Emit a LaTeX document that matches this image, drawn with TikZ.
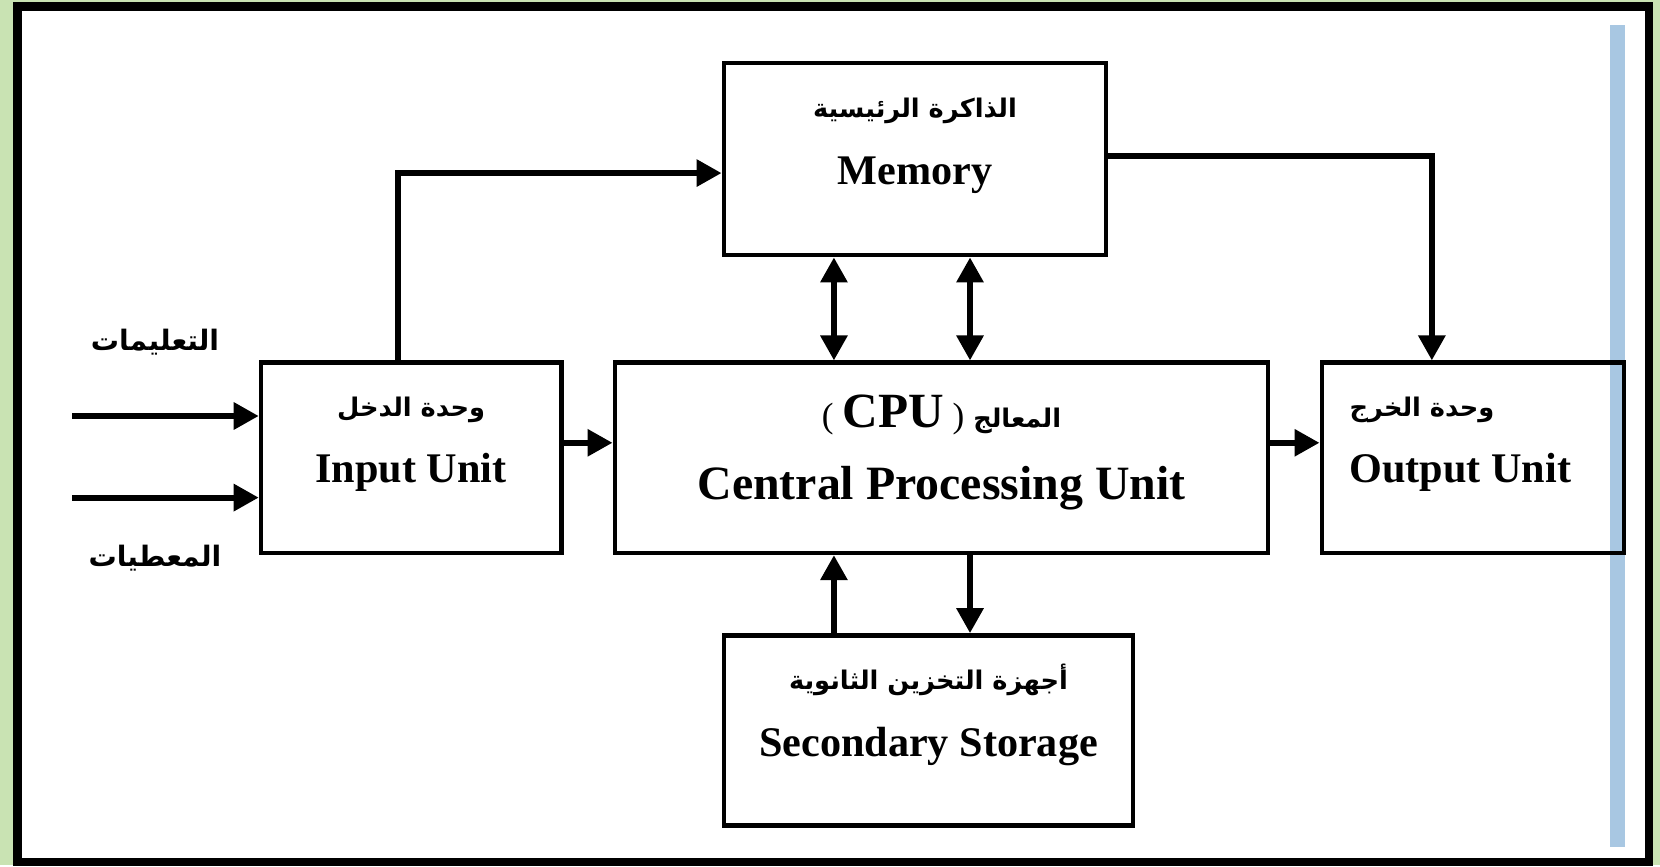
\documentclass[tikz,border=0pt]{standalone}
\usepackage{fontspec}
\setmainfont{Liberation Serif}
\newfontfamily\arabicfont[Script=Arabic]{DejaVu Sans}
\TeXXeTstate=1
\usetikzlibrary{arrows.meta,positioning}
\definecolor{leafgreen}{HTML}{C9E3B3}
\definecolor{barblue}{HTML}{A8C7E2}
\newcommand{\artxt}[1]{{\arabicfont\bfseries\fontsize{7.3}{9}\selectfont\beginR #1\endR}}

\begin{document}
\begin{tikzpicture}[
    x=0.01cm, y=-0.01cm,
    box/.style={draw, line width=1.3pt, minimum height=1.9cm, align=center,
                font=\bfseries\fontsize{12}{16}\selectfont, text depth=0.36cm},
    arr/.style={-{Triangle[length=2.5mm, width=2.6mm]}, line width=1.7pt},
    dbl/.style={{Triangle[length=2.5mm, width=2.6mm]}-{Triangle[length=2.5mm, width=2.6mm]}, line width=1.7pt},
    lbl/.style={font=\arabicfont\bfseries\fontsize{8}{10}\selectfont}
]

% background and frame
\fill[leafgreen] (0,0) rectangle (1660,865);
\draw[line width=2.3pt, fill=white] (17.5,6.5) rectangle (1649,862);
\fill[barblue] (1610,25) rectangle (1625,847);

% --- units ---
\node[box, minimum width=6.53cm, font=\bfseries\fontsize{13.6}{18}\selectfont, text depth=0.22cm] (cpu) at (941.5,457.8)
    {\artxt{المعالج \beginL{\rmfamily\mdseries\fontsize{10}{12}\selectfont(} {\rmfamily\bfseries\fontsize{14}{16}\selectfont CPU} {\rmfamily\mdseries\fontsize{10}{12}\selectfont)}\endL}\\[2.5pt] Central Processing Unit};
\node[box, minimum width=3.0cm, left=0.49cm of cpu] (input) {\artxt{وحدة الدخل}\\[3pt] Input Unit};
\node[box, minimum width=3.02cm, right=0.49cm of cpu, align=left] (output) {\artxt{وحدة الخرج}\\[3pt] Output Unit\rule{0.25cm}{0pt}};
\node[box, minimum width=3.82cm, minimum height=1.92cm, above right=1.03cm and 1.09cm of cpu.north west] (memory)
    {\artxt{الذاكرة الرئيسية}\\[3pt] Memory};
\node[box, minimum width=4.09cm, below right=0.78cm and 1.09cm of cpu.south west, text depth=0.4cm] (storage)
    {\artxt{أجهزة التخزين الثانوية}\\[3pt] Secondary Storage};

% --- inputs from outside ---
\coordinate (instr) at (72,416);
\coordinate (data) at (72,497.6);
\node[lbl] (instrlbl) at (155,342) {\beginR التعليمات\endR};
\node[lbl] (datalbl) at (155,558) {\beginR المعطيات\endR};
\draw[arr] (instr) -- (instr -| input.west);
\draw[arr] (data) -- (data -| input.west);

% --- data paths ---
\draw[arr] ([xshift=-0.13cm]input.north) |- ([yshift=-0.14cm]memory.west);
\draw[arr] ([yshift=0.035cm]memory.east) -| ([xshift=-0.41cm]output.north);
\draw[arr] ([yshift=0.15cm]input.east) -- ([yshift=0.15cm]cpu.west);
\draw[arr] ([yshift=0.15cm]cpu.east) -- ([yshift=0.15cm]output.west);

\coordinate (busA) at ([xshift=-0.81cm]memory.south);
\coordinate (busB) at ([xshift=0.55cm]memory.south);
\draw[dbl] (busA) -- (busA |- cpu.north);
\draw[dbl] (busB) -- (busB |- cpu.north);
\draw[arr] (busA |- storage.north) -- (busA |- cpu.south);
\draw[arr] (busB |- cpu.south) -- (busB |- storage.north);

\end{tikzpicture}
\end{document}
